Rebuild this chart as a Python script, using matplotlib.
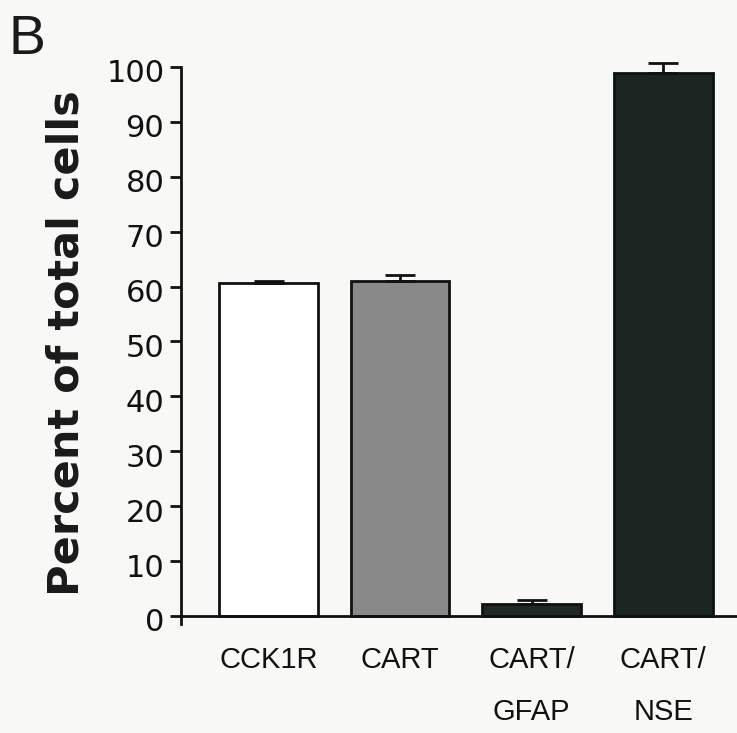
import matplotlib
matplotlib.use("Agg")
import matplotlib.pyplot as plt
import matplotlib.transforms as mtransforms

categories = ["CCK1R", "CART", "CART/\nGFAP", "CART/\nNSE"]
values = [60.6, 61.0, 2.2, 98.9]
errors = [0.5, 1.2, 0.7, 1.8]
bar_colors = ["#ffffff", "#898989", "#1f2a26", "#1b2521"]
yticks = [0, 10, 20, 30, 40, 50, 60, 70, 80, 90, 100]

bg = "#f8f8f6"
fig = plt.figure(figsize=(7.37, 7.33), dpi=100, facecolor=bg)
ax = fig.add_axes([0.2456, 0.1484, 0.7544, 0.7602])
ax.set_facecolor(bg)

x = list(range(len(categories)))
ax.bar(x, values, width=0.75, color=bar_colors, edgecolor="#111111", linewidth=2, zorder=2)
eb = ax.errorbar(x, values, yerr=[[0]*len(errors), errors], fmt="none", ecolor="#111111",
                 elinewidth=2, capsize=11, capthick=2, zorder=3)
for art in list(eb.lines[1]) + list(eb.lines[2]):
    art.set_clip_on(False)

ax.set_xlim(-0.665, 3.56)
ax.set_ylim(-1.5, 100)
ax.spines["bottom"].set_position(("data", 0))
ax.spines["top"].set_visible(False)
ax.spines["right"].set_visible(False)
for s in ("left", "bottom"):
    ax.spines[s].set_linewidth(2)
    ax.spines[s].set_color("#111111")
ax.spines["left"].set_bounds(-1.5, 100)

ax.set_yticks(yticks)
ax.set_yticklabels([str(t) for t in yticks], fontsize=22, family="DejaVu Sans")
ax.tick_params(axis="y", direction="out", length=8, width=2, pad=4, colors="#111111")
shift = mtransforms.ScaledTranslation(0, -4 / 100, fig.dpi_scale_trans)
for lab in ax.get_yticklabels():
    lab.set_transform(lab.get_transform() + shift)
ax.set_xticks([])

for xi, lab in zip(x, categories):
    for k, ln in enumerate(lab.split("\n")):
        off = mtransforms.offset_copy(ax.transData, fig=fig, x=0, y=-(44 + 52 * k), units="dots")
        ax.text(xi, 0, ln, transform=off, ha="center", va="center",
                fontsize=21, family="Liberation Sans", color="#111111")

ax.set_ylabel("Percent of total cells", fontsize=31, fontweight="bold", color="#1a1a1a")
ax.yaxis.set_label_coords(-0.168, 0.505)

fig.text(0.012, 0.946, "B", fontsize=40, family="Liberation Sans", va="center", ha="left", color="#1a1a1a")

fig.savefig("out.png", dpi=100, facecolor=bg)
